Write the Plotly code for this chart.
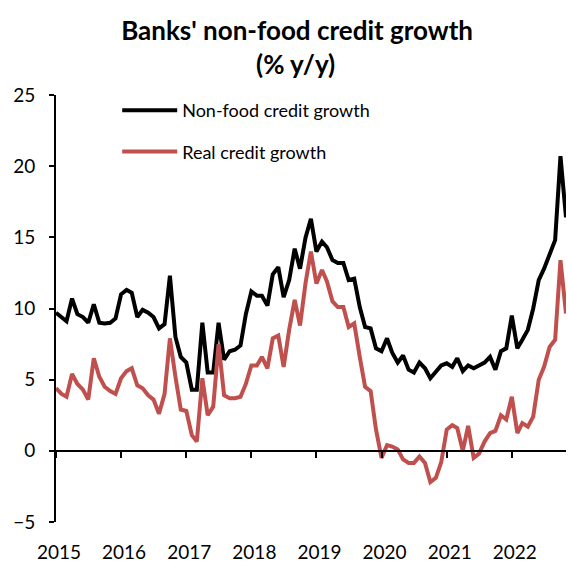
import pandas as pd
import plotly.graph_objects as go

# Monthly observations, Jan 2015 - Nov 2022 (% y/y)
months = pd.date_range("2015-01-01", periods=95, freq="MS")

non_food = [
    9.7, 9.4, 9.1, 10.7, 9.6, 9.4, 9.0, 10.3, 9.0, 8.95, 9.0, 9.3,
    11.0, 11.3, 11.1, 9.4, 9.9, 9.7, 9.4, 8.6, 8.9, 12.3, 8.0, 6.6,
    6.2, 4.3, 4.3, 9.0, 5.5, 5.5, 9.0, 6.4, 7.0, 7.1, 7.4, 9.6,
    11.2, 10.9, 10.9, 10.2, 12.4, 12.9, 10.8, 12.0, 14.2, 12.8, 15.0, 16.3,
    14.0, 14.7, 14.3, 13.4, 13.2, 13.2, 12.0, 12.1, 10.1, 8.7, 8.6, 7.2,
    7.0, 7.9, 6.9, 6.2, 6.7, 5.7, 5.5, 6.2, 5.8, 5.1, 5.6, 6.0,
    6.15, 5.9, 6.5, 5.6, 6.0, 5.8, 6.0, 6.2, 6.6, 5.7, 7.0, 7.2,
    9.5, 7.2, 7.8, 8.5, 10.0, 12.0, 12.8, 13.9, 14.8, 20.7, 16.4,
]

real = [
    4.4, 4.0, 3.8, 5.4, 4.7, 4.3, 3.6, 6.5, 5.2, 4.5, 4.2, 4.0,
    5.1, 5.6, 5.8, 4.6, 4.4, 3.9, 3.6, 2.6, 4.0, 7.9, 5.2, 2.9,
    2.8, 1.1, 0.65, 5.1, 2.5, 3.1, 7.5, 3.9, 3.7, 3.7, 3.8, 4.7,
    6.0, 6.0, 6.6, 5.8, 7.9, 8.1, 5.9, 8.5, 10.6, 8.8, 11.8, 14.0,
    11.75, 12.7, 11.9, 10.5, 10.1, 10.1, 8.7, 8.95, 6.6, 4.5, 4.2, 1.5,
    -0.5, 0.4, 0.3, 0.1, -0.6, -0.85, -0.85, -0.4, -0.86, -2.2, -1.9, -0.8,
    1.5, 1.8, 1.6, 0.0, 1.75, -0.5, -0.2, 0.65, 1.25, 1.4, 2.5, 2.2,
    3.8, 1.25, 1.95, 1.7, 2.4, 5.0, 5.9, 7.3, 7.8, 13.4, 9.65,
]

years = list(range(2015, 2023))
year_ticks = [pd.Timestamp(f"{y}-01-01") for y in years]
year_labels = [str(y) for y in years]
y_ticks = [-5, 0, 5, 10, 15, 20, 25]

fig = go.Figure()
fig.add_trace(go.Scatter(
    x=months, y=non_food, mode="lines", name="Non-food credit growth",
    line=dict(color="#000000", width=4), legendgroup="nf",
))
fig.add_trace(go.Scatter(
    x=months, y=real, mode="lines", name="Real credit growth",
    line=dict(color="#C0504D", width=4), legendgroup="real",
))
# carrier for the zero-line axis with year tick marks
fig.add_trace(go.Scatter(x=[], y=[], xaxis="x2", showlegend=False, hoverinfo="skip"))

x_range = [months[0], months[-1]]

fig.update_layout(
    width=568, height=564,
    margin=dict(l=56, r=2, t=95, b=42),
    paper_bgcolor="white", plot_bgcolor="white",
    font=dict(family="Lato", size=19, color="#000000"),
    title=dict(
        text="<b>Banks' non-food credit growth</b>",
        x=0.523, xanchor="center", y=1 - 31 / 564, yanchor="middle",
        font=dict(size=26, color="#000000"),
    ),
    annotations=[dict(
        text="<b>(% y/y)</b>", xref="paper", yref="paper",
        x=0.47, y=1 + (95 - 64) / 427, xanchor="center", yanchor="middle",
        showarrow=False, font=dict(size=26, color="#000000"),
    )],
    showlegend=True,
    legend=dict(
        x=0.12, y=1 + 3 / 427, xanchor="left", yanchor="top",
        font=dict(size=18), bgcolor="rgba(0,0,0,0)",
        itemwidth=55, tracegroupgap=15,
    ),
    xaxis=dict(
        type="date", range=x_range, tickvals=year_ticks, ticktext=year_labels,
        ticks="", showline=False, showgrid=False, zeroline=False,
        ticklabelstandoff=17, ticklabelshift=3,
    ),
    xaxis2=dict(
        type="date", overlaying="x", anchor="free", position=5 / 30,
        range=x_range, tickvals=year_ticks, showticklabels=False,
        ticks="outside", ticklen=6, tickwidth=2, tickcolor="#000000",
        showline=True, linecolor="#000000", linewidth=2,
        showgrid=False, zeroline=False,
    ),
    yaxis=dict(
        range=[-5, 25], tickvals=y_ticks, ticks="outside", ticklen=5,
        tickwidth=2, tickcolor="#000000", showline=True, linewidth=2,
        linecolor="#000000", showgrid=False, zeroline=False,
        ticklabelstandoff=10,
    ),
)

fig.write_html("out.html")
